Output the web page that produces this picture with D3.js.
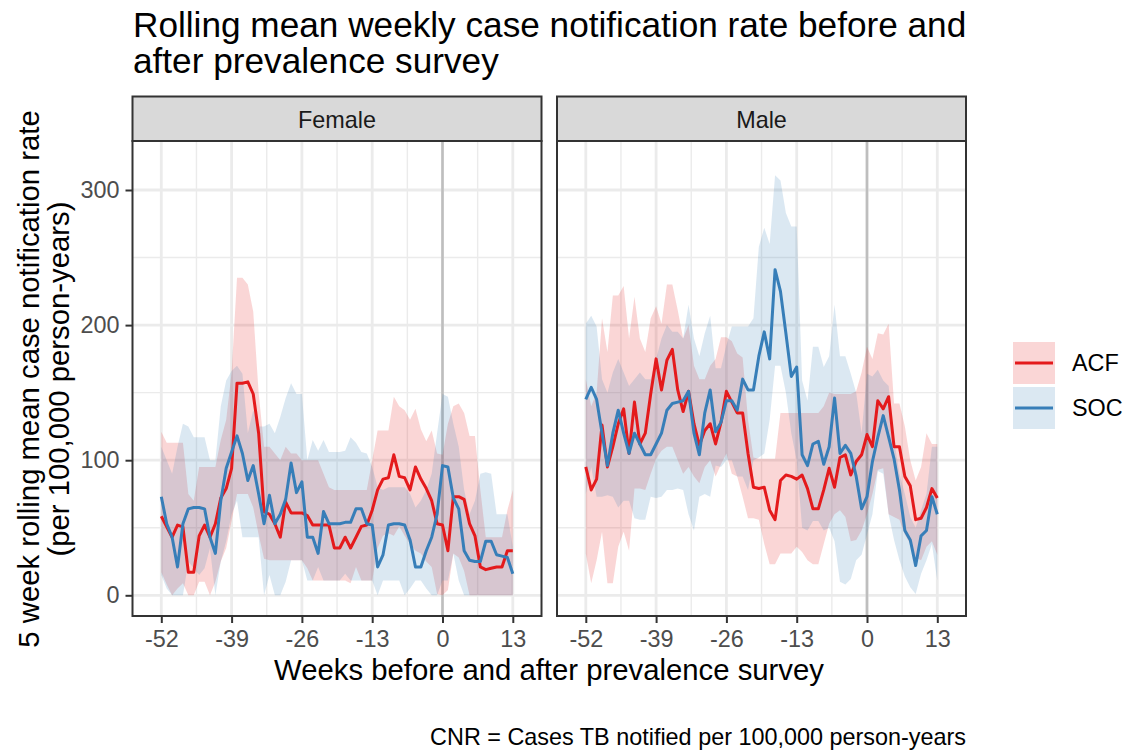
<!DOCTYPE html>
<html>
<head>
<meta charset="utf-8">
<script src="https://cdn.jsdelivr.net/npm/d3@7"></script>
<style>
  html, body { margin: 0; padding: 0; background: #fff; }
  svg { display: block; }
  text { font-family: "Liberation Sans", Arial, Helvetica, sans-serif; }
</style>
</head>
<body>
<div id="chart"></div>
<script>
// Weeks relative to the prevalence survey (week 0)
const weeks = [-52,-51,-50,-49,-48,-47,-46,-45,-44,-43,-42,-41,-40,-39,-38,-37,-36,-35,-34,-33,
  -32,-31,-30,-29,-28,-27,-26,-25,-24,-23,-22,-21,-20,-19,-18,-17,-16,-15,-14,-13,
  -12,-11,-10,-9,-8,-7,-6,-5,-4,-3,-2,-1,0,1,2,3,4,5,6,7,8,9,10,11,12,13];

const xTicks = [-52, -39, -26, -13, 0, 13];
const xMinor = [-45.5, -32.5, -19.5, -6.5, 6.5];
const yTicks = [0, 100, 200, 300];
const yMinor = [50, 150, 250];

const facets = ["Female", "Male"];
const arms = ["ACF", "SOC"];

// Female, ACF arm: 5 week rolling mean CNR and interval
const femaleAcf = [58.5,50.6,43,52,50.6,17,17,44,52,43, 53,72,79,94,157,157,158,149,120,62,
  60,53,43,69,61,61,61,59,52,52, 52,52,35,35,43,35,43,51,52,63,
  78,86,87,104,88,87,78,95,86,79, 70,53,52,33,73,73,71,53,44,21, 19,20,21,21,33,33];
const femaleAcfHi = [121,113,113,113,113,75,70,95,95,95, 95,115,130,165,235,235,230,210,150,110,
  110,105,100,110,105,105,100,100,100,100, 90,80,78,78,78,78,78,78,78,100,
  122,122,122,147,140,137,130,138,123,114, 122,105,104,127,140,142,135,118,118,78, 43,43,43,43,63,78];
const femaleAcfLo = [17,8,0,5,9,0,0,10,10,0, 10,25,35,55,75,75,75,65,45,27,
  26,26,26,26,26,26,26,20,11,11, 11,11,11,11,11,9,21,11,11,11,
  35,44,46,44,51,44,38,33,31,25, 21,1,0,4,31,28,18,0,0,0, 0,0,0,0,0,0];

// Female, SOC arm
const femaleSoc = [73,53,43,21,53,64,65,65,64,43, 31,70,94,106,118,105,85,96,75,53,
  74,53,60,71,98,76,84,43,43,31, 62,53,53,53,54,54,64,64,53,52,
  21,30,52,53,53,52,41,21,21,33, 43,60,96,95,72,64,33,26,25,25, 40,40,30,29,28,16];
const femaleSocHi = [110,100,90,110,127,125,117,117,117,100, 100,140,159,166,170,164,120,137,125,125,
  127,120,132,146,157,149,149,100,115,107, 115,106,106,106,107,117,113,106,105,95,
  80,78,80,80,80,80,75,65,70,78, 90,120,149,147,127,110,78,60,70,90, 91,90,60,60,60,36];
const femaleSocLo = [15,5,0,0,0,25,20,15,20,35, 0,25,40,60,70,43,43,43,43,0,
  15,0,0,10,26,26,26,11,11,21, 11,11,11,11,16,11,11,11,11,11,
  0,11,11,11,11,0,5,11,11,5, 0,0,11,11,31,11,0,0,0,0, 0,0,0,0,0,0];

// Male, ACF arm
const maleAcf = [95,78,86,126,95,110,127,138,105,143, 112,120,149,175,152,174,182,152,136,151,
  127,111,122,127,112,128,151,143,135,135, 105,80,79,80,63,56,85,89,88,86,
  89,79,64,64,78,94,80,102,104,89, 99,104,119,110,144,138,147,110,110,88, 81,56,57,65,79,72];
const maleAcfHi = [160,140,150,205,180,222,222,229,190,221, 190,180,205,214,201,230,230,211,190,200,
  170,160,160,170,175,191,191,188,179,176, 130,102,101,101,101,101,135,135,135,135,
  135,135,135,135,140,150,149,149,149,149, 151,165,184,175,194,193,201,142,142,125, 100,85,95,120,112,112];
const maleAcfLo = [31,9,26,47,9,9,36,47,33,79, 79,78,90,101,107,110,110,100,90,95,
  88,83,95,100,88,97,105,90,88,73, 57,57,56,38,23,23,31,31,31,36,
  32,26,23,23,38,53,60,63,58,40, 41,48,60,75,93,94,60,58,56,45, 38,28,26,36,40,30];

// Male, SOC arm
const maleSoc = [145,154,145,120,96,120,137,120,105,120, 112,104,104,112,120,137,142,143,144,151,
  120,104,135,152,121,128,144,144,137,160, 152,152,177,195,175,241,225,194,162,169,
  104,96,112,114,97,110,146,105,111,105, 88,64,73,99,117,133,117,101,78,48, 41,22,44,48,73,60];
const maleSocHi = [201,207,199,160,150,165,175,165,155,160, 165,160,160,175,190,200,195,195,190,215,
  190,177,194,207,168,168,185,199,199,199, 199,205,258,272,260,311,307,283,273,273,
  159,144,184,184,169,177,215,177,177,164, 150,120,164,162,167,159,155,115,90,75, 58,50,63,75,110,110];
const maleSocLo = [75,95,73,73,74,73,65,70,70,57, 56,56,73,72,73,78,78,79,78,60,
  48,73,75,73,96,95,100,100,88,88, 78,100,102,105,130,170,170,150,120,100,
  50,48,55,55,48,50,40,10,8,12, 26,30,45,60,92,90,60,41,26,14, 6,1,16,26,38,11];

const colors = { ACF: "#E41A1C", SOC: "#377EB8" };
const ribbonOpacity = 0.18;

const seriesByFacet = {
  Female: {
    ACF: { mid: femaleAcf, lo: femaleAcfLo, hi: femaleAcfHi },
    SOC: { mid: femaleSoc, lo: femaleSocLo, hi: femaleSocHi }
  },
  Male: {
    ACF: { mid: maleAcf, lo: maleAcfLo, hi: maleAcfHi },
    SOC: { mid: maleSoc, lo: maleSocLo, hi: maleSocHi }
  }
};

const W = 1140, H = 750;
const panelTop = 141, panelBottom = 616, stripTop = 96.5;
const panelX = { Female: [132.5, 541.5], Male: [557, 966] };
const font = '"Liberation Sans", Arial, Helvetica, sans-serif';
const smallText = 23.4;

const svg = d3.select("#chart").append("svg")
  .attr("width", W).attr("height", H)
  .attr("viewBox", `0 0 ${W} ${H}`);

svg.append("rect").attr("width", W).attr("height", H).attr("fill", "#fff");

const y = d3.scaleLinear().domain([0, 300]).range([595.3, 190]);

// Title
const title = svg.append("text")
  .attr("font-size", 35.2).attr("fill", "#000");
title.append("tspan").attr("x", 133).attr("y", 37)
  .text("Rolling mean weekly case notification rate before and");
title.append("tspan").attr("x", 133).attr("y", 73)
  .text("after prevalence survey");

facets.forEach((facet, fi) => {
  const [x0, x1] = panelX[facet];
  const x = d3.scaleLinear().domain([-52, 13]).range([x0 + 28.8, x0 + 380.3]);
  const g = svg.append("g");

  const clipId = "clip-" + facet;
  svg.append("clipPath").attr("id", clipId)
    .append("rect").attr("x", x0).attr("y", panelTop)
    .attr("width", x1 - x0).attr("height", panelBottom - panelTop);

  // grid
  const grid = g.append("g");
  grid.selectAll(".ymin").data(yMinor).join("line")
    .attr("x1", x0).attr("x2", x1).attr("y1", d => y(d)).attr("y2", d => y(d))
    .attr("stroke", "#EBEBEB").attr("stroke-width", 1.4);
  grid.selectAll(".xmin").data(xMinor).join("line")
    .attr("y1", panelTop).attr("y2", panelBottom).attr("x1", d => x(d)).attr("x2", d => x(d))
    .attr("stroke", "#EBEBEB").attr("stroke-width", 1.4);
  grid.selectAll(".ymaj").data(yTicks).join("line")
    .attr("x1", x0).attr("x2", x1).attr("y1", d => y(d)).attr("y2", d => y(d))
    .attr("stroke", "#EBEBEB").attr("stroke-width", 2.8);
  grid.selectAll(".xmaj").data(xTicks).join("line")
    .attr("y1", panelTop).attr("y2", panelBottom).attr("x1", d => x(d)).attr("x2", d => x(d))
    .attr("stroke", "#EBEBEB").attr("stroke-width", 2.8);

  // survey week marker
  g.append("line")
    .attr("x1", x(0)).attr("x2", x(0)).attr("y1", panelTop).attr("y2", panelBottom)
    .attr("stroke", "#BEBEBE").attr("stroke-width", 2.6);

  const plot = g.append("g").attr("clip-path", `url(#${clipId})`);

  arms.forEach(arm => {
    const s = seriesByFacet[facet][arm];
    const area = d3.area()
      .x((d, i) => x(weeks[i]))
      .y0((d, i) => y(s.lo[i]))
      .y1((d, i) => y(s.hi[i]));
    plot.append("path").datum(s.mid)
      .attr("d", area)
      .attr("fill", colors[arm]).attr("fill-opacity", ribbonOpacity);
  });

  arms.forEach(arm => {
    const s = seriesByFacet[facet][arm];
    const line = d3.line().x((d, i) => x(weeks[i])).y(d => y(d));
    plot.append("path").datum(s.mid)
      .attr("d", line)
      .attr("fill", "none").attr("stroke", colors[arm])
      .attr("stroke-width", 3).attr("stroke-linejoin", "round");
  });

  // panel border
  g.append("rect")
    .attr("x", x0).attr("y", panelTop).attr("width", x1 - x0).attr("height", panelBottom - panelTop)
    .attr("fill", "none").attr("stroke", "#333333").attr("stroke-width", 2);

  // strip
  g.append("rect")
    .attr("x", x0).attr("y", stripTop).attr("width", x1 - x0).attr("height", panelTop - stripTop)
    .attr("fill", "#D9D9D9").attr("stroke", "#333333").attr("stroke-width", 2);
  g.append("text")
    .attr("x", (x0 + x1) / 2).attr("y", 127.5)
    .attr("text-anchor", "middle").attr("font-size", smallText).attr("fill", "#1A1A1A")
    .text(facet);

  // x axis
  const xAxis = d3.axisBottom(x).tickValues(xTicks).tickSize(7).tickPadding(7)
    .tickFormat(d => d < 0 ? "-" + Math.abs(d) : String(d));
  const xa = svg.append("g").attr("transform", `translate(0,${panelBottom})`).call(xAxis);
  xa.select(".domain").remove();
  xa.selectAll(".tick line").attr("stroke", "#333333").attr("stroke-width", 2);
  xa.selectAll(".tick text").attr("fill", "#4D4D4D").attr("font-size", smallText)
    .attr("font-family", font);

  if (fi === 0) {
    const yAxis = d3.axisLeft(y).tickValues(yTicks).tickSize(7).tickPadding(6);
    const ya = svg.append("g").attr("transform", `translate(${x0},0)`).call(yAxis);
    ya.select(".domain").remove();
    ya.selectAll(".tick line").attr("stroke", "#333333").attr("stroke-width", 2);
    ya.selectAll(".tick text").attr("fill", "#4D4D4D").attr("font-size", smallText)
      .attr("font-family", font);
  }
});

// axis titles
svg.append("text")
  .attr("x", 549).attr("y", 680)
  .attr("text-anchor", "middle").attr("font-size", 29.3).attr("fill", "#000")
  .text("Weeks before and after prevalence survey");

const yTitle = svg.append("text")
  .attr("transform", "translate(0,379) rotate(-90)")
  .attr("text-anchor", "middle").attr("font-size", 29.3).attr("fill", "#000");
yTitle.append("tspan").attr("x", 0).attr("y", 39).text("5 week rolling mean case notification rate");
yTitle.append("tspan").attr("x", 0).attr("y", 69).text("(per 100,000 person-years)");

// legend
const legend = svg.append("g");
arms.forEach((arm, i) => {
  const top = 342 + i * 45;
  legend.append("rect")
    .attr("x", 1013).attr("y", top).attr("width", 42).attr("height", 42)
    .attr("fill", colors[arm]).attr("fill-opacity", ribbonOpacity);
  legend.append("line")
    .attr("x1", 1015).attr("x2", 1053).attr("y1", top + 21).attr("y2", top + 21)
    .attr("stroke", colors[arm]).attr("stroke-width", 3);
  legend.append("text")
    .attr("x", 1072).attr("y", top + 29)
    .attr("font-size", smallText).attr("fill", "#000")
    .text(arm);
});

// caption
svg.append("text")
  .attr("x", 966).attr("y", 745)
  .attr("text-anchor", "end").attr("font-size", smallText).attr("fill", "#000")
  .text("CNR = Cases TB notified per 100,000 person-years");
</script>
</body>
</html>
